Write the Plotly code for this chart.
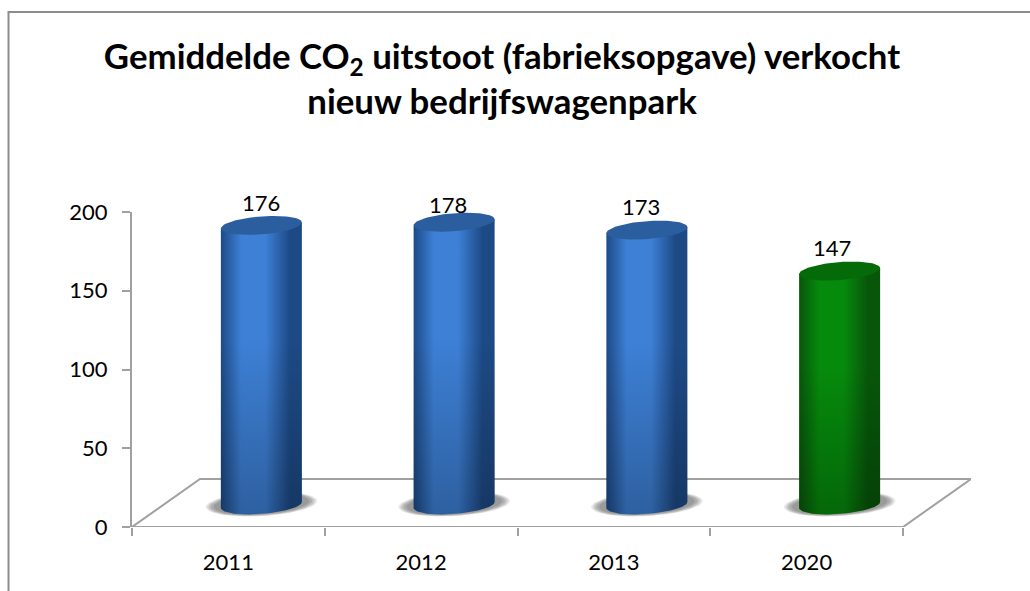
import numpy as np
import plotly.graph_objects as go

years = ["2011", "2012", "2013", "2020"]
co2 = [176, 178, 173, 147]
colors_mid = ["#3d80d6", "#3d80d6", "#3d80d6", "#068a0c"]
colors_edge = ["#1d4a85", "#1d4a85", "#1d4a85", "#07560a"]
colors_top = ["#2a5e9e", "#2a5e9e", "#2a5e9e", "#056a08"]
yticks = [0, 50, 100, 150, 200]

FONT = "Lato, Carlito, sans-serif"
W, H = 1030, 591
L, R, T, B = 132, 59, 212, 64
px_x = 771 / 4
px_y = (H - T - B) / 200
LINE = "#a0a0a0"

fig = go.Figure()
xs = np.arange(len(years))
t = np.linspace(0, 2 * np.pi, 90)

# 3-D floor, its depth expressed in axis units
depth_x = 68 / px_x
depth_y = 48 / px_y
xmax = 3.5 + depth_x
floor_x = [-0.5, 3.5, xmax, -0.5 + depth_x, -0.5]
floor_y = [0, 0, depth_y, depth_y, 0]
fig.add_trace(go.Scatter(x=floor_x, y=floor_y, mode="lines", cliponaxis=False,
                         line=dict(color=LINE, width=2), hoverinfo="skip", showlegend=False))

shift = 33 / px_x
a = 40.5 / px_x
b = 9 / px_y
s = 3 / px_y
base = 14

shadow_steps = [(1.38, "#ececec"), (1.34, "#d8d8d8"), (1.3, "#c2c2c2"), (1.25, "#adadad"), (1.18, "#9a9a9a")]
for i, v in enumerate(co2):
    cx = xs[i] + shift
    top = v + 15.5
    for grow, col in shadow_steps:
        fig.add_trace(go.Scatter(
            x=cx + a * grow * np.cos(t), y=base + b * grow * 0.98 * np.sin(t) + s * np.cos(t) + 0.6,
            mode="lines", fill="toself", fillcolor=col, line=dict(width=0),
            hoverinfo="skip", showlegend=False))
    tt = np.linspace(0, np.pi, 50)
    bx = cx + a * np.cos(tt)
    by = base - b * np.sin(tt) + s * np.cos(tt)
    body_x = np.r_[cx - a, cx + a, bx, cx - a]
    body_y = np.r_[top - s, top + s, by, top - s]
    fig.add_trace(go.Scatter(
        x=body_x, y=body_y, mode="lines", fill="toself", line=dict(width=0), name=years[i],
        fillgradient=dict(type="horizontal",
                          colorscale=[[0, colors_edge[i]], [0.25, colors_mid[i]], [0.55, colors_mid[i]],
                                      [0.85, colors_edge[i]], [1, colors_edge[i]]]),
        hoverinfo="skip", showlegend=False))
    # vertical darkening towards the foot of the cylinder
    fig.add_trace(go.Scatter(
        x=body_x, y=body_y, mode="lines", fill="toself", line=dict(width=0),
        fillgradient=dict(type="vertical",
                          colorscale=[[0, "rgba(0,0,0,0.25)"], [0.6, "rgba(0,0,0,0)"], [1, "rgba(0,0,0,0)"]]),
        hoverinfo="skip", showlegend=False))
    fig.add_trace(go.Scatter(
        x=cx + a * np.cos(t), y=top + b * np.sin(t) + s * np.cos(t),
        mode="lines", fill="toself", fillcolor=colors_top[i], line=dict(width=0),
        hoverinfo="skip", showlegend=False))

# Value labels, anchored to the value and nudged in pixels
label_dx = [33, 27, 27, 25]
label_dy = [47, 42, 48, 48]
for i, v in enumerate(co2):
    fig.add_annotation(x=xs[i], y=v, xref="x", yref="y", text=str(v), showarrow=False,
                       xshift=label_dx[i], yshift=label_dy[i], yanchor="middle",
                       font=dict(family=FONT, size=22, color="#000"))

tick_font = dict(family=FONT, size=22, color="#000")
fig.update_layout(
    width=W, height=H,
    margin=dict(l=L, r=R, t=T, b=B, pad=0),
    paper_bgcolor="white", plot_bgcolor="rgba(0,0,0,0)",
    showlegend=False,
    title=dict(text="Gemiddelde CO<sub>2</sub> uitstoot (fabrieksopgave) verkocht<br>nieuw bedrijfswagenpark",
               x=502 / W, xanchor="center", y=1 - 69 / H, yanchor="middle",
               font=dict(family=FONT, size=34.8, color="#000", weight="bold")),
    xaxis=dict(range=[-0.5, xmax], showline=False, showgrid=False, zeroline=False,
               tickvals=list(xs), ticktext=years, ticks="", tickfont=tick_font, ticklabelstandoff=20,
               minor=dict(tickvals=[-0.5, 0.5, 1.5, 2.5, 3.5], ticks="outside", ticklen=8,
                          tickcolor=LINE, tickwidth=2, showgrid=False)),
    yaxis=dict(range=[0, 200], tickvals=yticks, showline=True, linecolor=LINE, linewidth=2,
               ticks="outside", ticklen=8, tickcolor=LINE, tickwidth=2, showgrid=False, zeroline=False,
               tickfont=tick_font, ticklabelstandoff=10),
    shapes=[dict(type="rect", xref="paper", yref="paper",
                 x0=(8.5 - L) / (W - L - R), x1=(W + 20 - L) / (W - L - R),
                 y0=-120 / (H - T - B), y1=(H - B - 12) / (H - T - B),
                 line=dict(color="#8c8c8c", width=2))],
)

fig.write_html("out.html", post_script="document.body.style.margin='0';",
               config=dict(displayModeBar=False))
